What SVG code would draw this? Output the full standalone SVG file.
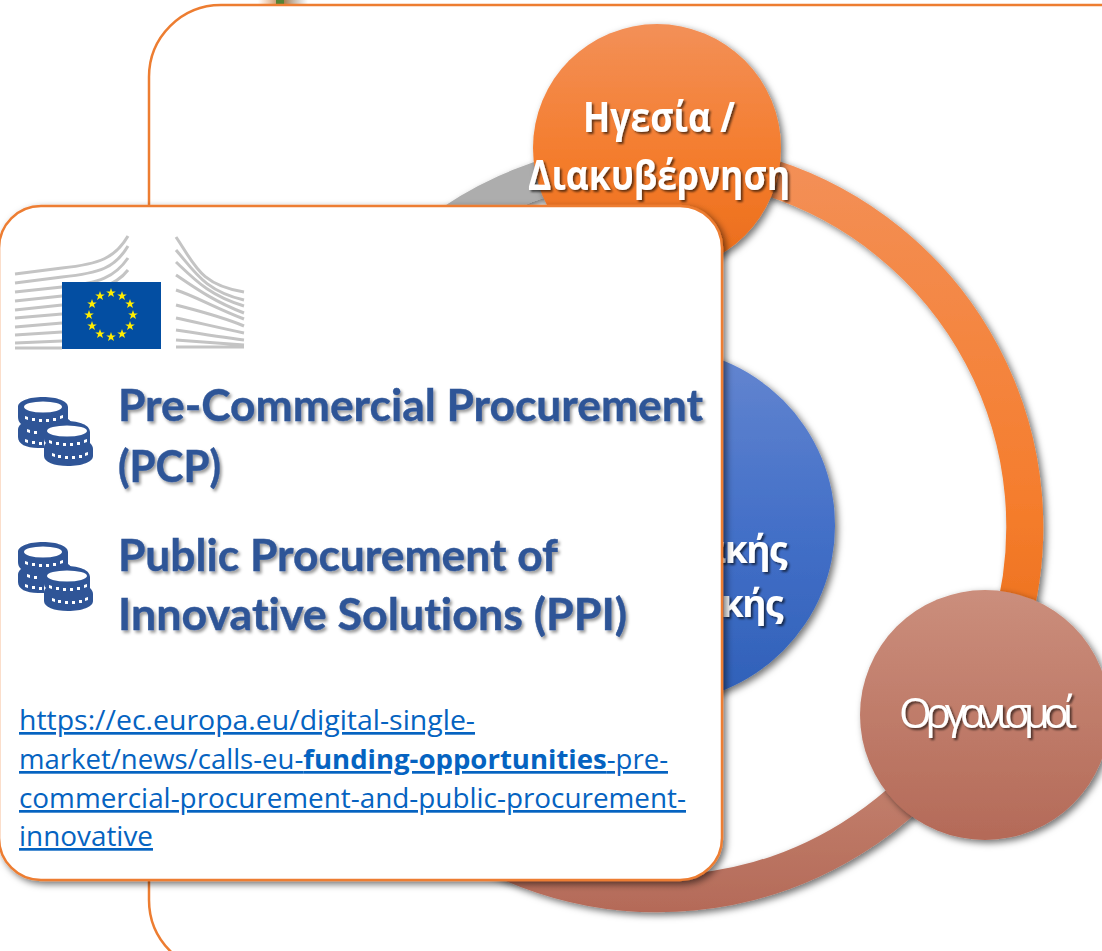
<svg xmlns="http://www.w3.org/2000/svg" width="1102" height="951" viewBox="0 0 1102 951">
<style>
.frame{fill:#fff;stroke:#ed7d31;stroke-width:2.5}
.wt{fill:#fff;font-family:"Open Sans","Noto Sans",sans-serif;filter:url(#ts)}
.h{fill:#2f5597;stroke:#2f5597;stroke-width:.4;font-family:Lato,"Liberation Sans",sans-serif;font-weight:700;font-size:43px;font-variant-ligatures:none;filter:url(#ts2)}
.l{fill:#0563c1;font-family:"Open Sans","Liberation Sans",sans-serif;font-size:27px;text-decoration:underline;font-variant-ligatures:none}
.g{fill:none;stroke:#c4c4c4;stroke-width:3}
.coin{fill:#2f5597}
.ci{fill:#fff}
</style>
<defs>
<filter id="ds" x="-20%" y="-20%" width="140%" height="140%"><feDropShadow dx="3" dy="3" stdDeviation="3.5" flood-color="#000" flood-opacity=".55"/></filter>
<filter id="ts" x="-10%" y="-20%" width="120%" height="150%"><feDropShadow dx="2" dy="2" stdDeviation="1.2" flood-color="#000" flood-opacity=".6"/></filter>
<filter id="ts2" x="-10%" y="-20%" width="120%" height="150%"><feDropShadow dx="2" dy="2.5" stdDeviation="1.8" flood-color="#000" flood-opacity=".4"/></filter>
<linearGradient id="or" x1="0" y1="0" x2="0" y2="1"><stop offset="0" stop-color="#f39058"/><stop offset=".55" stop-color="#f47c2c"/><stop offset="1" stop-color="#ea6c1a"/></linearGradient>
<linearGradient id="bl" x1="0" y1="0" x2="0" y2="1"><stop offset="0" stop-color="#6486d0"/><stop offset=".5" stop-color="#4470c8"/><stop offset="1" stop-color="#2f60b8"/></linearGradient>
<linearGradient id="br" x1="0" y1="0" x2="0" y2="1"><stop offset="0" stop-color="#cb8e7c"/><stop offset="1" stop-color="#b46a58"/></linearGradient>
<linearGradient id="oa" gradientUnits="userSpaceOnUse" x1="0" y1="150" x2="0" y2="620"><stop offset="0" stop-color="#f39058"/><stop offset=".75" stop-color="#f57d2d"/><stop offset="1" stop-color="#ee7320"/></linearGradient>
<linearGradient id="ba" gradientUnits="userSpaceOnUse" x1="0" y1="780" x2="0" y2="915"><stop offset="0" stop-color="#c27f6c"/><stop offset="1" stop-color="#b46a58"/></linearGradient>
<linearGradient id="gs" x1="0" y1="0" x2="1" y2="0"><stop offset="0" stop-color="#ed7d31" stop-opacity="0"/><stop offset=".5" stop-color="#a06a30" stop-opacity=".9"/><stop offset="1" stop-color="#808080" stop-opacity="0"/></linearGradient>
<g id="coins">
<path class="coin" d="M18 12C18 6 29 2 43 2S68 6 68 12V24C71 26 72 28 72 32H50L44 38V53H38C26 53 18 49 18 42V35C18 32 19 31 21 29C19 27 18 25 18 22Z"/>
<ellipse class="ci" cx="43" cy="12" rx="19" ry="5.5"/>
<path class="ci" d="M25 21l3 1v3l-3-1zM32 23h3v3h-3zM39 24h3v3h-3zM46 24h3v3h-3zM53 23h3v3h-3zM60 21l3-1v3l-3 1zM27 34l3 1v3l-3-1zM34 36h3v3h-3zM25 44l3 1v3l-3-1zM32 46h3v3h-3zM39 47h3v3h-3z"/>
<path class="coin" d="M44 37C44 30 55 26 67 26S90 30 90 37V48C92 50 93 52 93 54V61C93 67 82 71 68 71S44 67 44 61V52C44 50 45 49 46 48C44 46 44 45 44 43Z"/>
<ellipse class="ci" cx="67" cy="36" rx="20" ry="5.5"/>
<path class="ci" d="M49 45l3 1v3l-3-1zM56 47h3v3h-3zM63 48h3v3h-3zM70 48h3v3h-3zM77 47h3v3h-3zM84 45l3-1v3l-3 1zM52 58l3 1v3l-3-1zM58 60h3v3h-3zM65 61h3v3h-3zM72 61h3v3h-3zM79 60h3v3h-3zM85 58l3-1v3l-3 1z"/>
</g>
<polygon id="star" points="0,-5 1.2,-1.6 4.8,-1.5 1.9,.6 3,4 0,2 -3,4 -1.9,.6 -4.8,-1.5 -1.2,-1.6" fill="#ffed00"/>
</defs>

<g id="green-tab"><rect x="258" y="0" width="50" height="4" fill="url(#gs)"/><rect x="276" y="0" width="8" height="4" fill="#548235"/></g>
<g id="outer-frame"><rect class="frame" x="149" y="5" width="1100" height="967" rx="72"/></g>

<g id="connectors" fill="none" stroke-width="37">
<path d="M540 179.500A367 367 0 0 0 300 447" stroke="#adadad" filter="url(#ds)"/>
<path d="M770 177.500A367 367 0 0 1 1010 630" stroke="url(#oa)" filter="url(#ds)"/>
<path d="M960 735A367 367 0 0 1 400 788" stroke="url(#ba)" filter="url(#ds)"/>
</g>

<g id="node-top"><circle cx="657" cy="148" r="124" fill="url(#or)" filter="url(#ds)"/>
<text class="wt" x="659" y="132" text-anchor="middle" font-size="41" font-weight="700" textLength="152" lengthAdjust="spacingAndGlyphs">Ηγεσία /</text>
<text class="wt" x="659" y="190" text-anchor="middle" font-size="41" font-weight="700" textLength="262" lengthAdjust="spacingAndGlyphs">Διακυβέρνηση</text></g>

<g id="node-center"><circle cx="657.5" cy="525.500" r="177.5" fill="url(#bl)" filter="url(#ds)"/>
<text class="wt" x="786" y="563" text-anchor="end" font-size="37" font-weight="700" letter-spacing="-1.500">ακής</text>
<text class="wt" x="782" y="617" text-anchor="end" font-size="37" font-weight="700" letter-spacing="-1.500">ακής</text></g>

<g id="node-org"><circle cx="985" cy="715" r="125" fill="url(#br)" filter="url(#ds)"/>
<text class="wt" x="988" y="728" text-anchor="middle" font-size="42" font-weight="400" textLength="178" lengthAdjust="spacing">Οργανισμοί</text></g>

<g id="card">
<rect class="frame" x="-1" y="206" width="723" height="674" rx="42" filter="url(#ds)"/>
<g id="logo">
<path class="g" d="M15 274L62 268C100 264 115 258 128 236M15 283L62 277C100 273 115 268 128 246M15 292L62 287C100 283 115 277 128 258M15 301L62 296C90 293 115 287 128 270M15 310L62 305M15 318L62 314M15 327L62 323M15 335L62 332M15 343L62 341M15 348H62"/>
<path class="g" d="M176 237C195 265 200 285 244 292M176 250C195 272 205 291 244 300M176 262C195 280 210 296 244 306M176 275C195 288 215 302 244 313M176 290C195 296 215 308 244 319M176 305C195 310 220 316 244 326M176 318C195 322 220 328 244 333M176 330C195 333 220 337 244 340M176 340L244 345M176 347H244"/>
<rect x="62" y="282" width="99" height="67" fill="#034ea2"/>
<use href="#star" x="111" y="293"/><use href="#star" x="122" y="296"/><use href="#star" x="130" y="304"/><use href="#star" x="133" y="315"/><use href="#star" x="130" y="326"/><use href="#star" x="122" y="334"/><use href="#star" x="111" y="337"/><use href="#star" x="100" y="334"/><use href="#star" x="92" y="326"/><use href="#star" x="89" y="315"/><use href="#star" x="92" y="304"/><use href="#star" x="100" y="296"/>
</g>
<use href="#coins" y="395"/>
<use href="#coins" y="540"/>
<text class="h" x="118" y="421" textLength="585" lengthAdjust="spacingAndGlyphs">Pre-Commercial Procurement</text>
<text class="h" x="118" y="482" textLength="103" lengthAdjust="spacingAndGlyphs">(PCP)</text>
<text class="h" x="118" y="571" textLength="440" lengthAdjust="spacingAndGlyphs">Public Procurement of</text>
<text class="h" x="118" y="630" textLength="509" lengthAdjust="spacingAndGlyphs">Innovative Solutions (PPI)</text>
<text class="l" x="19" y="730" textLength="456" lengthAdjust="spacingAndGlyphs">https://ec.europa.eu/digital-single-</text>
<text class="l" x="19" y="769" textLength="649" lengthAdjust="spacingAndGlyphs">market/news/calls-eu-<tspan font-weight="700">funding-opportunities</tspan>-pre-</text>
<text class="l" x="19" y="808" textLength="667" lengthAdjust="spacingAndGlyphs">commercial-procurement-and-public-procurement-</text>
<text class="l" x="19" y="846" textLength="134" lengthAdjust="spacingAndGlyphs">innovative</text>
</g>
</svg>
